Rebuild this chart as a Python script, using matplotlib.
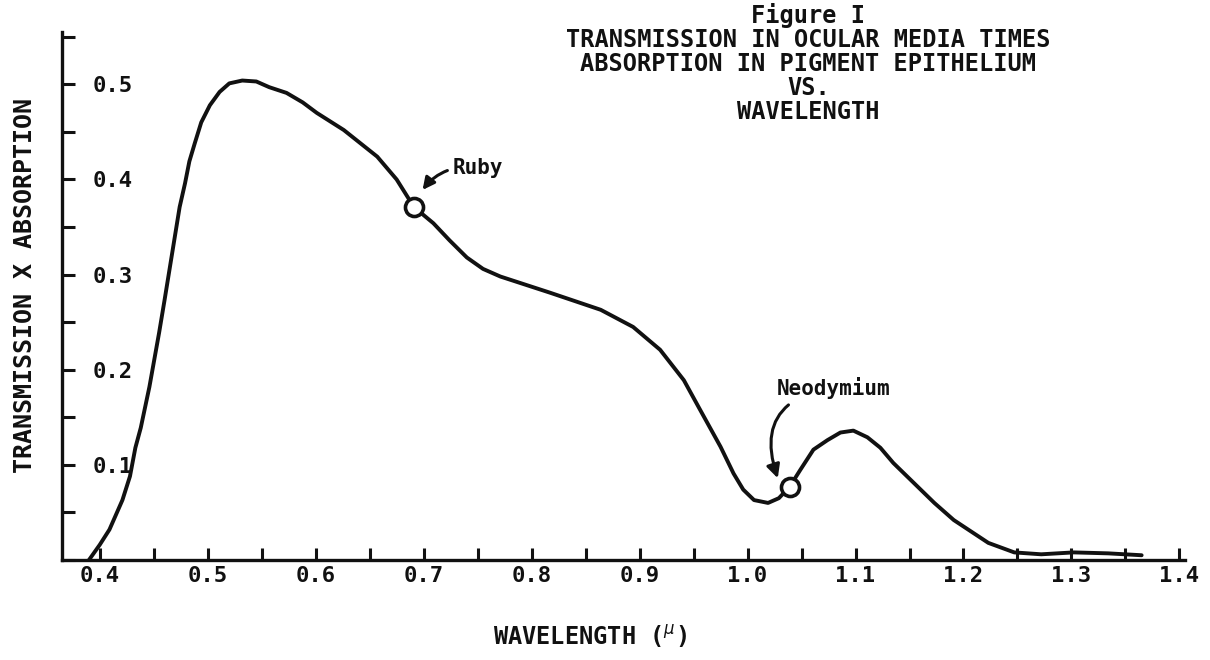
import matplotlib.pyplot as plt
from matplotlib.ticker import MultipleLocator

# curve
wavelength = [0.390, 0.400, 0.409, 0.421, 0.428, 0.433, 0.438, 0.446, 0.455,
              0.460, 0.467, 0.474, 0.479, 0.483, 0.488, 0.494, 0.502,
              0.511, 0.520, 0.532, 0.545, 0.557, 0.573, 0.588, 0.601, 0.626,
              0.657, 0.675, 0.691, 0.709, 0.724, 0.740, 0.755, 0.771, 0.817,
              0.864, 0.894, 0.919, 0.941, 0.956, 0.975, 0.987, 0.996, 1.006,
              1.019, 1.029, 1.039, 1.049, 1.061, 1.074, 1.086, 1.098, 1.111,
              1.123, 1.135, 1.154, 1.173, 1.191, 1.223, 1.247, 1.272, 1.302,
              1.334, 1.365]
trans_abs = [0.000, 0.016, 0.032, 0.063, 0.088, 0.118, 0.139, 0.182, 0.239,
             0.273, 0.322, 0.371, 0.396, 0.419, 0.438, 0.460, 0.478,
             0.492, 0.501, 0.504, 0.503, 0.497, 0.491, 0.481, 0.470, 0.452,
             0.424, 0.400, 0.371, 0.354, 0.336, 0.318, 0.306, 0.298, 0.281,
             0.263, 0.245, 0.221, 0.189, 0.158, 0.119, 0.091, 0.074, 0.063,
             0.060, 0.065, 0.077, 0.095, 0.116, 0.126, 0.134, 0.136, 0.129,
             0.118, 0.102, 0.081, 0.060, 0.042, 0.018, 0.008, 0.006, 0.008,
             0.007, 0.005]

# laser lines marked on the curve
laser_names = ['Ruby', 'Neodymium']
laser_wl = [0.691, 1.039]
laser_val = [0.371, 0.077]

x_ticks = [0.4, 0.5, 0.6, 0.7, 0.8, 0.9, 1.0, 1.1, 1.2, 1.3, 1.4]
x_labels = ['0.4', '0.5', '0.6', '0.7', '0.8', '0.9', '1.0', '1.1', '1.2', '1.3', '1.4']
y_ticks = [0.1, 0.2, 0.3, 0.4, 0.5]
y_labels = ['0.1', '0.2', '0.3', '0.4', '0.5']

title_lines = ['Figure I',
               'TRANSMISSION IN OCULAR MEDIA TIMES',
               'ABSORPTION IN PIGMENT EPITHELIUM',
               'VS.',
               'WAVELENGTH']

ink = '#111111'
mono = ['DejaVu Sans Mono']

fig = plt.figure(figsize=(12.1, 6.6), dpi=100)
ax = fig.add_axes([0.0512, 0.1515, 0.928, 0.8])

ax.plot(wavelength, trans_abs, color=ink, lw=2.8, clip_on=False,
        solid_capstyle='round', solid_joinstyle='round')
ax.plot(laser_wl, laser_val, 'o', ms=13, mfc='white', mec=ink, mew=2.6,
        zorder=5, clip_on=False)

ax.set_xlim(0.365, 1.405)
ax.set_ylim(0, 0.555)

for side in ['top', 'right']:
    ax.spines[side].set_visible(False)
for side in ['left', 'bottom']:
    ax.spines[side].set_linewidth(2.4)
    ax.spines[side].set_color(ink)

ax.set_xticks(x_ticks)
ax.set_xticklabels(x_labels, family=mono, fontweight='bold', fontsize=16)
ax.set_yticks(y_ticks)
ax.set_yticklabels(y_labels, family=mono, fontweight='bold', fontsize=16)
ax.xaxis.set_minor_locator(MultipleLocator(0.05))
ax.yaxis.set_minor_locator(MultipleLocator(0.05))
ax.tick_params(which='both', direction='in', length=9, width=2.2, color=ink)
ax.tick_params(axis='x', pad=4, labelcolor=ink)
ax.tick_params(axis='y', pad=-22, labelcolor=ink)
for lab in ax.get_yticklabels():
    lab.set_horizontalalignment('left')

ax.set_ylabel('TRANSMISSION X ABSORPTION', family=mono, fontweight='bold',
              fontsize=18, color=ink, labelpad=0)
ax.yaxis.set_label_coords(-0.022, 0.52)
fig.text(0.488, 0.035, r'WAVELENGTH ($^{\mu}$)', family=mono, fontweight='bold',
         fontsize=17, color=ink, ha='center', va='center')

fig.text(0.668, 0.995, '\n'.join(title_lines), family=mono, fontweight='bold',
         fontsize=17, color=ink, ha='center', va='top', multialignment='center',
         linespacing=1.0)

# annotations with curved arrows
ax.annotate(laser_names[0], xy=(0.699, 0.389), xytext=(0.727, 0.412),
            family=mono, fontweight='bold', fontsize=15, color=ink,
            ha='left', va='center',
            arrowprops=dict(arrowstyle='-|>', color=ink, lw=2.2,
                            mutation_scale=18, shrinkA=2, shrinkB=0,
                            connectionstyle='arc3,rad=0.3'))
ax.annotate(laser_names[1], xy=(1.028, 0.086), xytext=(1.027, 0.181),
            family=mono, fontweight='bold', fontsize=15, color=ink,
            ha='left', va='center',
            arrowprops=dict(arrowstyle='-|>', color=ink, lw=2.2,
                            mutation_scale=20, shrinkA=4, shrinkB=0,
                            connectionstyle='arc3,rad=0.6'))

plt.savefig('out.png', dpi=100, facecolor='white')
